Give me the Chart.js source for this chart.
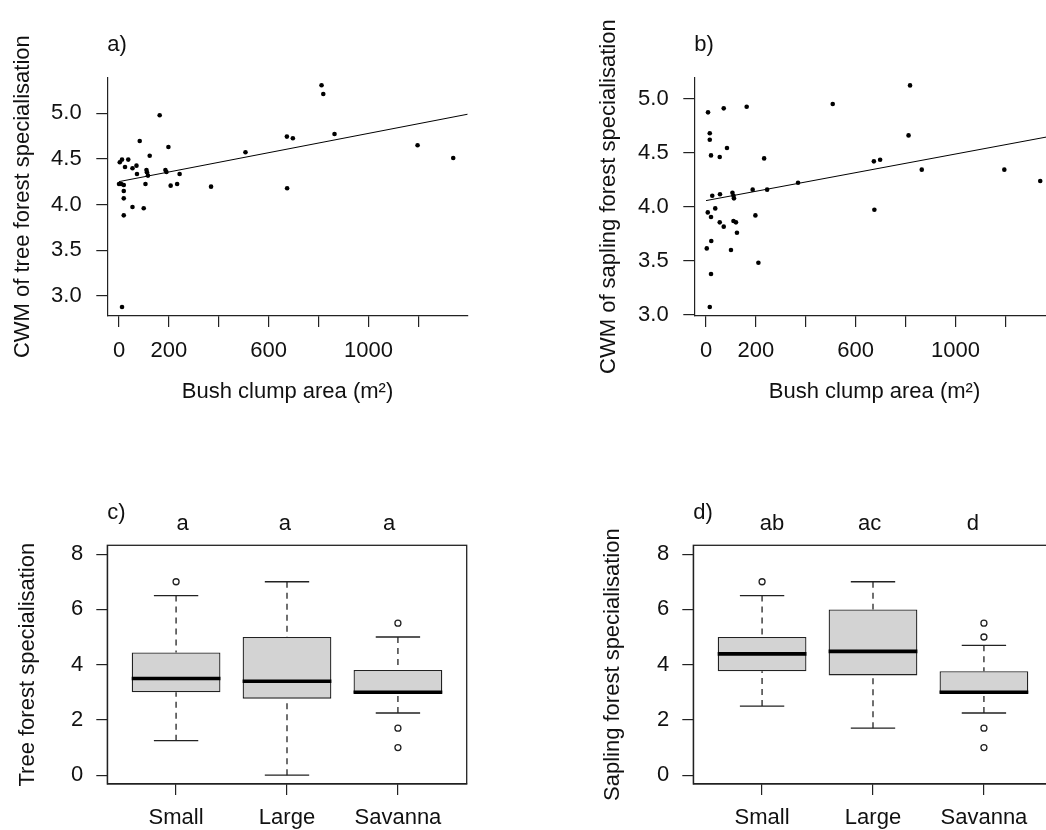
<!DOCTYPE html>
<html>
<head>
<meta charset="utf-8">
<script src="https://cdn.jsdelivr.net/npm/chart.js@4.4.1/dist/chart.umd.min.js"></script>
<style>
html, body { margin: 0; padding: 0; background: #fff; overflow: hidden; width: 1046px; height: 830px; }
canvas { position: absolute; }
</style>
</head>
<body>
<canvas id="panelA" width="490" height="420" style="left:0px;top:0px"></canvas>
<canvas id="panelB" width="490" height="420" style="left:586px;top:0px"></canvas>
<canvas id="panelC" width="490" height="390" style="left:0px;top:440px"></canvas>
<canvas id="panelD" width="490" height="390" style="left:586px;top:440px"></canvas>
<script>
// a) tree CWM vs bush clump area
const areaTree = [812, 819, 163, 83, 198, 123, 3, 12, 37, 24, 54, 70, 72, 110, 112, 116, 186, 190, 243,
  0, 9, 19, 19, 19, 106, 207, 233, 369, 54, 99, 19, 12, 507, 673, 697, 674, 864, 1197, 1340];
const cwmTree = [5.307, 5.212, 4.978, 4.697, 4.631, 4.536, 4.464, 4.493, 4.493, 4.412, 4.398, 4.427, 4.336,
  4.380, 4.354, 4.318, 4.380, 4.358, 4.336, 4.226, 4.226, 4.215, 4.150, 4.069, 4.226, 4.208, 4.226, 4.197,
  3.974, 3.960, 3.883, 2.880, 4.573, 4.745, 4.726, 4.179, 4.774, 4.650, 4.511];

// b) sapling CWM vs bush clump area
const areaSapling = [818, 508, 8, 71, 163, 15, 15, 812, 84, 20, 55, 233, 673, 698, 865, 1196, 1340, 369,
  187, 245, 25, 56, 106, 110, 112, 7, 20, 37, 198, 675, 55, 71, 110, 120, 124, 21, 3, 100, 210, 20, 15];
const cwmSapling = [5.123, 4.951, 4.874, 4.911, 4.926, 4.680, 4.621, 4.661, 4.544, 4.476, 4.461, 4.448,
  4.421, 4.436, 4.344, 4.344, 4.239, 4.223, 4.159, 4.159, 4.103, 4.116, 4.131, 4.103, 4.079, 3.949, 3.906,
  3.986, 3.921, 3.974, 3.857, 3.817, 3.869, 3.857, 3.761, 3.684, 3.616, 3.601, 3.484, 3.379, 3.074];

// fitted lines (end points)
const fitX = [0, 1398];
const fitTree = [4.252, 4.990];
const fitSapling = [4.058, 4.660];

const areaTicks = [0, 200, 400, 600, 800, 1000, 1200];
const areaTickLabels = ['0', '200', '', '600', '', '1000', ''];
const cwmTicks = [3.0, 3.5, 4.0, 4.5, 5.0];

// c) and d) boxplots
const categories = ['Small', 'Large', 'Savanna'];
const boxTicks = [0, 2, 4, 6, 8];

const treeLow = [1.25, 0, 2.25];
const treeQ1 = [3.0, 2.77, 2.97];
const treeMed = [3.5, 3.4, 3.0];
const treeQ3 = [4.44, 5.0, 3.81];
const treeHigh = [6.5, 7.0, 5.0];
const treeOut = [[7.0], [], [5.5, 1.7, 1.0]];
const treeLetters = ['a', 'a', 'a'];

const sapLow = [2.5, 1.7, 2.25];
const sapQ1 = [3.76, 3.61, 2.97];
const sapMed = [4.39, 4.48, 3.0];
const sapQ3 = [5.0, 6.0, 3.76];
const sapHigh = [6.5, 7.0, 4.7];
const sapOut = [[7.0], [], [5.5, 5.0, 1.7, 1.0]];
const sapLetters = ['ab', 'ac', 'd'];

const FONT = "'Liberation Sans', Arial, sans-serif";
const INK = '#111';
const LINE = '#222';

Chart.defaults.font.family = FONT;
Chart.defaults.font.size = 22;
Chart.defaults.color = INK;

// panel tag, group letters and full box frame
const panelText = {
  id: 'panelText',
  afterDraw(chart, args, opts) {
    const { ctx, chartArea, scales } = chart;
    ctx.save();
    ctx.font = '22px ' + FONT;
    ctx.fillStyle = INK;
    ctx.textBaseline = 'alphabetic';
    ctx.textAlign = 'left';
    ctx.fillText(opts.tag, chartArea.left, chartArea.top - 26.5);
    if (opts.frame) {
      ctx.strokeStyle = LINE;
      ctx.lineWidth = 1.3;
      ctx.strokeRect(chartArea.left, chartArea.top, chartArea.right - chartArea.left, chartArea.bottom - chartArea.top);
    }
    if (opts.letters) {
      ctx.textAlign = 'center';
      opts.letters.forEach((t, i) => {
        ctx.fillText(t, scales.x.getPixelForValue(opts.letterX[i]), chartArea.top - 15.3);
      });
    }
    ctx.restore();
  }
};

function axisLook(tickPad) {
  return {
    grid: { display: true, drawOnChartArea: false, drawTicks: true, tickLength: 11, color: LINE, lineWidth: 1.2, offset: false },
    border: { display: true, color: LINE, width: 1.2 },
    ticks: { padding: tickPad, autoSkip: false, maxRotation: 0, color: INK, font: { size: 22 } }
  };
}

function scatterPanel(id, xs, ys, fitY, yMin, yMax, yTitle, tag, geo) {
  const xAxis = axisLook(10.5);
  const yAxis = axisLook(14.6);
  return new Chart(document.getElementById(id), {
    type: 'scatter',
    data: {
      datasets: [
        {
          data: xs.map((x, i) => ({ x, y: ys[i] })),
          pointRadius: 2.3, pointBackgroundColor: '#000', pointBorderWidth: 0, pointBorderColor: '#000'
        },
        {
          type: 'line',
          data: fitX.map((x, i) => ({ x, y: fitY[i] })),
          borderColor: '#000', borderWidth: 1, pointRadius: 0, tension: 0
        }
      ]
    },
    options: {
      responsive: false, animation: false, devicePixelRatio: 1,
      layout: { padding: geo.pad },
      plugins: { legend: { display: false }, tooltip: { enabled: false }, panelText: { tag } },
      scales: {
        x: {
          type: 'linear', min: -47, max: 1398, offset: false,
          grid: xAxis.grid, border: xAxis.border,
          ticks: Object.assign(xAxis.ticks, { callback: (v, i) => areaTickLabels[i] }),
          afterBuildTicks: s => { s.ticks = areaTicks.map(v => ({ value: v })); },
          afterFit: s => { s.height = geo.xh; },
          title: { display: true, text: 'Bush clump area (m²)', color: INK, font: { size: 22 }, padding: { top: 0, bottom: 15 } }
        },
        y: {
          type: 'linear', min: yMin, max: yMax,
          grid: yAxis.grid, border: yAxis.border,
          ticks: Object.assign(yAxis.ticks, { callback: v => Number(v).toFixed(1) }),
          afterBuildTicks: s => { s.ticks = cwmTicks.map(v => ({ value: v })); },
          afterFit: s => { s.width = geo.yw; },
          title: { display: true, text: yTitle, color: INK, font: { size: 22 }, padding: { top: geo.titlePad, bottom: 0 } }
        }
      }
    },
    plugins: [panelText]
  });
}

function boxPanel(id, low, q1, med, q3, high, outs, letters, letterX, yTitle, tag, geo) {
  const medianPts = [], capPts = [], whiskerPts = [], outPts = [];
  categories.forEach((c, i) => {
    const p = i + 1;
    medianPts.push({ x: p - 0.4, y: med[i] }, { x: p + 0.4, y: med[i] }, { x: p + 0.5, y: null });
    capPts.push({ x: p - 0.2, y: high[i] }, { x: p + 0.2, y: high[i] }, { x: p, y: null },
                { x: p - 0.2, y: low[i] }, { x: p + 0.2, y: low[i] }, { x: p + 0.5, y: null });
    whiskerPts.push({ x: p, y: high[i] }, { x: p, y: q3[i] }, { x: p, y: null },
                    { x: p, y: low[i] }, { x: p, y: q1[i] }, { x: p + 0.5, y: null });
    outs[i].forEach(v => outPts.push({ x: p, y: v }));
  });
  const xAxis = axisLook(10.1);
  const yAxis = axisLook(13);
  return new Chart(document.getElementById(id), {
    type: 'scatter',
    data: {
      datasets: [
        { type: 'line', data: medianPts, borderColor: '#000', borderWidth: 3.6, pointRadius: 0, borderCapStyle: 'butt' },
        { type: 'scatter', data: outPts, pointRadius: 3, pointBorderWidth: 1.3, pointBorderColor: LINE, pointBackgroundColor: 'rgba(0,0,0,0)' },
        {
          type: 'bar',
          data: categories.map((c, i) => ({ x: i + 1, y: [q1[i], q3[i]] })),
          backgroundColor: '#d3d3d3', borderColor: LINE, borderWidth: 1.3, borderSkipped: false,
          barPercentage: 0.8, categoryPercentage: 1
        },
        { type: 'line', data: capPts, borderColor: LINE, borderWidth: 1.3, pointRadius: 0 },
        { type: 'line', data: whiskerPts, borderColor: LINE, borderWidth: 1.3, borderDash: [6, 5], pointRadius: 0 }
      ]
    },
    options: {
      responsive: false, animation: false, devicePixelRatio: 1,
      layout: { padding: geo.pad },
      plugins: { legend: { display: false }, tooltip: { enabled: false }, panelText: { tag, frame: true, letters, letterX } },
      scales: {
        x: {
          type: 'linear', min: 0.38, max: 3.62, offset: false,
          grid: xAxis.grid, border: xAxis.border,
          ticks: Object.assign(xAxis.ticks, { callback: (v, i) => categories[i] }),
          afterBuildTicks: s => { s.ticks = categories.map((c, i) => ({ value: i + 1 })); },
          afterFit: s => { s.height = geo.xh; }
        },
        y: {
          type: 'linear', min: -0.32, max: 8.32,
          grid: yAxis.grid, border: yAxis.border,
          ticks: Object.assign(yAxis.ticks, { callback: v => String(v) }),
          afterBuildTicks: s => { s.ticks = boxTicks.map(v => ({ value: v })); },
          afterFit: s => { s.width = geo.yw; },
          title: { display: true, text: yTitle, color: INK, font: { size: 22 }, padding: { top: geo.titlePad, bottom: 0 } }
        }
      }
    },
    plugins: [panelText]
  });
}

scatterPanel('panelA', areaTree, cwmTree, fitTree, 2.781, 5.394, 'CWM of tree forest specialisation', 'a)',
  { pad: { top: 77.3, right: 22.3, bottom: 0, left: 0 }, yw: 107.3, xh: 104, titlePad: 10 });
scatterPanel('panelB', areaSapling, cwmSapling, fitSapling, 2.991, 5.198, 'CWM of sapling forest specialisation', 'b)',
  { pad: { top: 77.3, right: 21.3, bottom: 0, left: 0 }, yw: 108.3, xh: 104, titlePad: 10 });
boxPanel('panelC', treeLow, treeQ1, treeMed, treeQ3, treeHigh, treeOut, treeLetters, [1.06, 1.98, 2.92],
  'Tree forest specialisation', 'c)',
  { pad: { top: 105.3, right: 23.3, bottom: 0, left: 0 }, yw: 107.3, xh: 46, titlePad: 15 });
boxPanel('panelD', sapLow, sapQ1, sapMed, sapQ3, sapHigh, sapOut, sapLetters, [1.09, 1.97, 2.90],
  'Sapling forest specialisation', 'd)',
  { pad: { top: 105.3, right: 23.3, bottom: 0, left: 0 }, yw: 107.3, xh: 46, titlePad: 14 });
</script>
</body>
</html>
